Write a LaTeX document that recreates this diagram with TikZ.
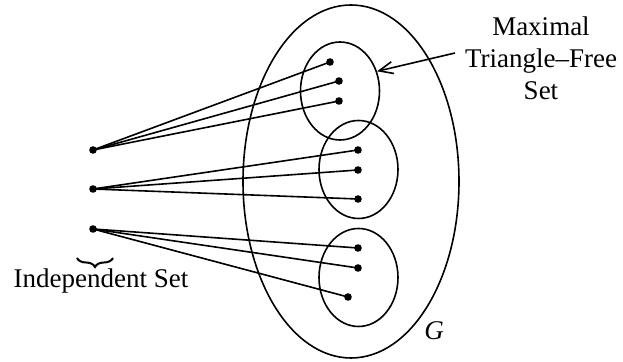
\documentclass[tikz,border=0pt]{standalone}
\usepackage{fontspec}
\setmainfont{Liberation Serif}
\usetikzlibrary{positioning,arrows.meta,shapes.geometric,decorations.pathreplacing}

\begin{document}
\begin{tikzpicture}[
        x=0.5pt, y=-0.5pt, line width=0.8pt,
        vtx/.style={circle, fill, inner sep=0pt, minimum size=3.8pt},
        part/.style={draw, ellipse, inner sep=0pt, minimum width=39.5pt, minimum height=49pt},
        lbl/.style={font=\fontsize{13.5}{16}\selectfont, align=center}
    ]
        \useasboundingbox (0,0) rectangle (623,362);
        % the graph G and its triangle-free parts
        \draw (351,181.5) ellipse [x radius=54pt, y radius=88.25pt];
        \node[part] (tf1) at (340,91) {};
        \node[part] (tf2) at (358.5,169.5) {};
        \node[part] (tf3) at (358.5,277.5) {};
        \node[lbl] (glbl) at (434,331) {\textit{G}};

        % independent set
        \node[vtx] (i1) at (93,150) {};
        \node[vtx] (i2) at (93,189) {};
        \node[vtx] (i3) at (93,229) {};

        % vertices inside the parts
        \node[vtx] (a1) at (330,62) {};
        \node[vtx] (a2) at (339,81) {};
        \node[vtx] (a3) at (339,101) {};
        \node[vtx] (b1) at (358,150) {};
        \node[vtx] (b2) at (358,170) {};
        \node[vtx] (b3) at (358,199) {};
        \node[vtx] (c1) at (358,248) {};
        \node[vtx] (c2) at (358,268) {};
        \node[vtx] (c3) at (348,297) {};

        \foreach \s/\t in {i1/a1, i1/a2, i1/a3, i2/b1, i2/b2, i2/b3, i3/c1, i3/c2, i3/c3}
            \draw (\s.center) -- (\t.center);

        % labels
        \coordinate (bl) at (77,258);
        \coordinate (br) at (113,258);
        \draw[decorate, decoration={brace, mirror, amplitude=4.5pt}, line width=1pt] (bl) -- (br);
        \node[lbl, anchor=base] (indep) at (101,288) {Independent Set};

        \node[lbl] (tfs) at (541,58) {Maximal\\Triangle--Free\\Set};
        \coordinate (tfa) at (455,53);
        \draw[-{Straight Barb[length=7pt,width=6pt]}] (tfa) -- (tf1.28);
    \end{tikzpicture}
\end{document}
